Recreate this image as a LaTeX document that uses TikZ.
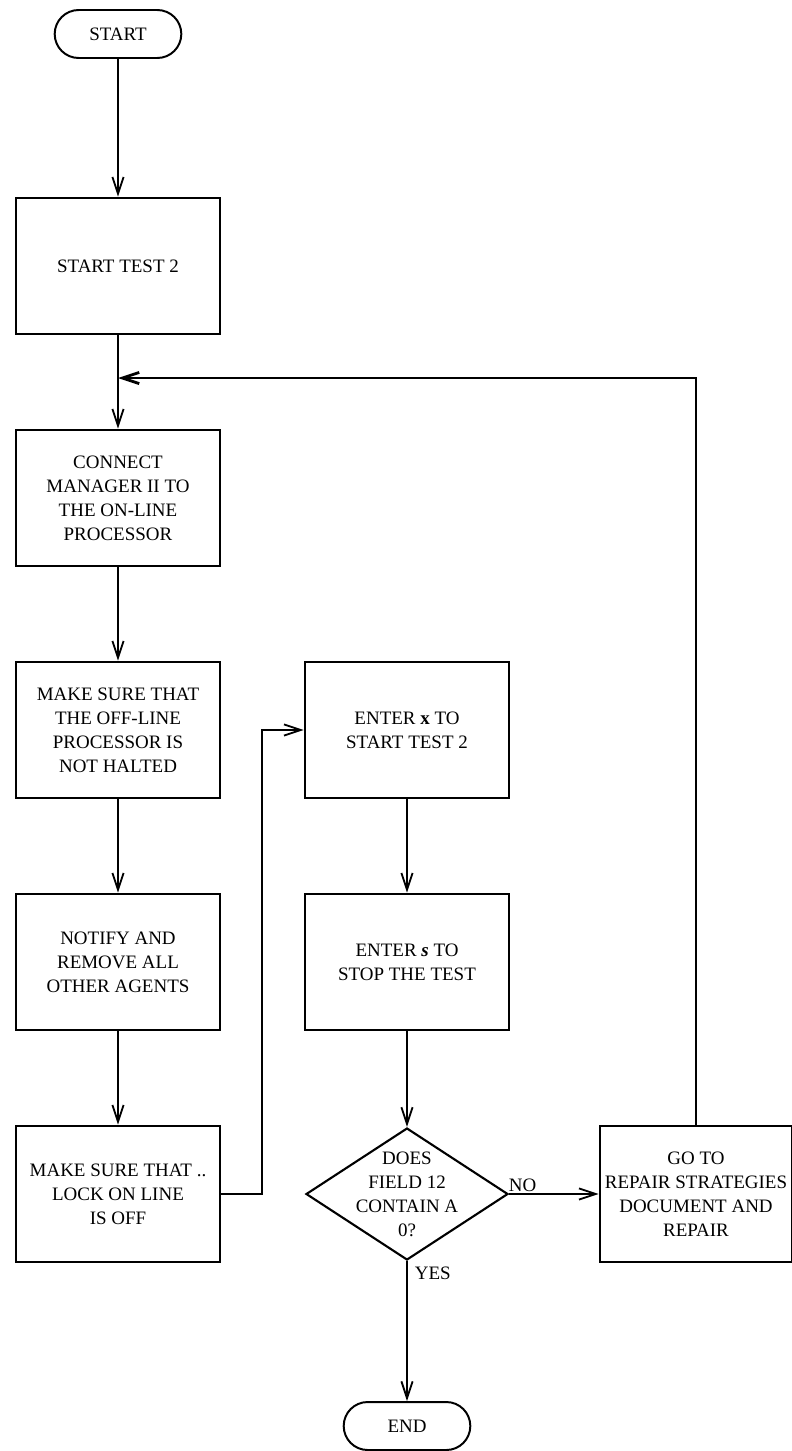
\documentclass[tikz,border=0pt]{standalone}
\usepackage{fontspec}
\setmainfont{Liberation Serif}
\usepackage{tikz}
\usetikzlibrary{shapes,arrows,arrows.meta,positioning}

\begin{document}
\begin{tikzpicture}[node distance=5.8cm, auto, font=\fontsize{13.5}{17}\selectfont]
    % Define styles
    \tikzstyle{terminal} = [rounded rectangle, minimum width=3.4cm, minimum height=1.2cm, text centered, draw=black, line width=1.4pt]
    \tikzstyle{process} = [rectangle, minimum width=5.1cm, minimum height=3.4cm, inner sep=2pt, align=center, draw=black, line width=1.9pt]
    \tikzstyle{decision} = [diamond, minimum width=5.05cm, minimum height=3.3cm, inner sep=0pt, draw=black, line width=1.5pt]
    \tikzstyle{line} = [draw, line width=1.3pt]
    \tikzstyle{arrow} = [line, -{Straight Barb[length=0.42cm, width=0.28cm]}]

    \useasboundingbox (0,0) rectangle (19.8,-36.275);

    % Nodes
    \node[terminal] (start) at (2.95,-0.85) {START};
    \node[process, below of=start] (test) {START TEST 2};
    \node[process, below of=test] (connect) {CONNECT\\MANAGER II TO\\THE ON-LINE\\PROCESSOR};
    \node[process, below of=connect] (offline) {MAKE SURE THAT\\THE OFF-LINE\\PROCESSOR IS\\NOT HALTED};
    \node[process, below of=offline] (notify) {NOTIFY AND\\REMOVE ALL\\OTHER AGENTS};
    \node[process, below of=notify] (lock) {MAKE SURE THAT ..\\LOCK ON LINE\\IS OFF};
    \node[process, right of=offline, xshift=1.425cm] (enterx) {ENTER \textbf{x} TO\\START TEST 2};
    \node[process, below of=enterx] (enters) {ENTER \textbf{\textit{s}} TO\\STOP THE TEST};
    \node[decision, below of=enters, label={[align=center]center:{DOES\\FIELD 12\\CONTAIN A\\0?}}] (check) {};
    \node[process, right of=check, xshift=1.425cm, minimum width=4.8cm] (goto) {GO TO\\REPAIR STRATEGIES\\DOCUMENT AND\\REPAIR};
    \node[terminal, below of=check] (end) {END};
    \coordinate[below of=test, node distance=2.8cm] (merge);
    \coordinate[right of=lock, node distance=3.6cm] (jog);

    % Connections
    \draw[arrow] (start) -- (test);
    \draw[line] (test) -- (merge);
    \draw[arrow] (merge) -- (connect);
    \draw[arrow] (connect) -- (offline);
    \draw[arrow] (offline) -- (notify);
    \draw[arrow] (notify) -- (lock);
    \draw[arrow] (lock) -- (jog) |- (enterx);
    \draw[arrow] (enterx) -- (enters);
    \draw[arrow] (enters) -- (check);
    \draw[arrow] (check) -- node[pos=0.15, above, inner sep=1pt] {NO} (goto);
    \draw[arrow] (check) -- node[pos=0.09, right, inner sep=5pt] {YES} (end);
    \draw[arrow, line width=2pt] (goto) |- (merge);
\end{tikzpicture}
\end{document}
